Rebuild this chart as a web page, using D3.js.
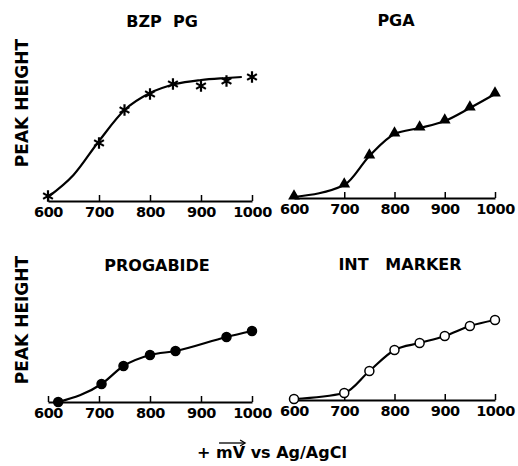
<!DOCTYPE html>
<html>
<head>
<meta charset="utf-8">
<script src="https://cdn.jsdelivr.net/npm/d3@7"></script>
<style>
  body { margin: 0; background: #fff; }
  svg text { font-family: "DejaVu Sans", sans-serif; font-weight: bold; fill: #000; }
</style>
</head>
<body>
<div id="chart"></div>
<script>
/* global d3 */
// data (peak height in arbitrary units, 0 = baseline)
const tickMV = [600, 700, 800, 900, 1000];

const bzpX = [600, 700, 750, 800, 845, 900, 950, 1000];
const bzpY = [5, 58, 91, 107, 117, 115, 120, 124];
// hand drawn fit through the stars, stops short of the last one
const bzpFitX = [600, 650, 700, 750, 800, 850, 900, 950, 980];
const bzpFitY = [4, 26, 60, 91, 108, 117, 121, 123, 124];

const pgaX = [600, 700, 750, 800, 850, 900, 950, 1000];
const pgaY = [1, 13, 42, 64, 70, 77, 90, 104];

const progX = [620, 705, 748, 800, 850, 950, 1000];
const progY = [0, 18, 36, 47, 51, 65, 71];

const intX = [600, 700, 750, 800, 850, 900, 950, 1000];
const intY = [1, 7, 29, 50, 57, 64, 74, 80];

let zip = (xs, ys) => xs.map((x, i) => ({x: x, y: ys[i]}));

let panels = [
  {title: "BZP  PG", mark: "star", pts: zip(bzpX, bzpY), fit: zip(bzpFitX, bzpFitY),
   x0: 48, x1: 252, base: 201, ty: 21, tx: 162},
  {title: "PGA", mark: "tri", pts: zip(pgaX, pgaY), fit: zip(pgaX, pgaY),
   x0: 294, x1: 495, base: 198, ty: 20, tx: 396},
  {title: "PROGABIDE", mark: "dot", pts: zip(progX, progY), fit: zip(progX, progY),
   x0: 48, x1: 252, base: 402, ty: 265, tx: 157},
  {title: "INT   MARKER", mark: "ring", pts: zip(intX, intY), fit: zip(intX, intY),
   x0: 294, x1: 495, base: 400, ty: 264, tx: 400}
];

let svg = d3.select("#chart").append("svg")
  .attr("width", 518)
  .attr("height", 466);

panels.forEach(p => {
  let x = d3.scaleLinear().domain([600, 1000]).range([p.x0, p.x1]);
  let y = d3.scaleLinear().domain([0, 130]).range([p.base, p.base - 130]);

  let g = svg.append("g");

  let ax = g.append("g")
    .attr("transform", `translate(0,${p.base})`)
    .call(d3.axisBottom(x).tickValues(tickMV).tickFormat(d3.format("d"))
      .tickSizeInner(-6).tickSizeOuter(0).tickPadding(6));
  ax.select(".domain").attr("stroke-width", 2);
  ax.selectAll(".tick line").attr("stroke-width", 1.5);
  ax.selectAll("text")
    .style("font-size", "14.5px")
    .style("letter-spacing", "-0.4px")
    .attr("fill", "#000");

  g.append("text")
    .attr("x", p.tx)
    .attr("y", p.ty)
    .attr("dy", "0.36em")
    .attr("text-anchor", "middle")
    .style("font-size", "16px")
    .style("white-space", "pre")
    .text(p.title);

  g.append("path")
    .datum(p.fit)
    .attr("fill", "none")
    .attr("stroke", "#000")
    .attr("stroke-width", 2.2)
    .attr("d", d3.line().x(d => x(d.x)).y(d => y(d.y)).curve(d3.curveMonotoneX));

  let m = g.selectAll(".mk").data(p.pts).enter();
  if (p.mark == "star") {
    m.append("path")
      .attr("transform", d => `translate(${x(d.x)},${y(d.y)})`)
      .attr("d", d3.symbol(d3.symbolAsterisk, 90)())
      .attr("fill", "none")
      .attr("stroke", "#000")
      .attr("stroke-width", 2.2);
  } else if (p.mark == "tri") {
    m.append("path")
      .attr("transform", d => `translate(${x(d.x)},${y(d.y) - 1})`)
      .attr("d", d3.symbol(d3.symbolTriangle, 60)())
      .attr("fill", "#000");
  } else {
    m.append("circle")
      .attr("cx", d => x(d.x))
      .attr("cy", d => y(d.y))
      .attr("r", 4.5)
      .attr("fill", p.mark == "dot" ? "#000" : "#fff")
      .attr("stroke", "#000")
      .attr("stroke-width", 1.5);
  }
});

// y labels
[103, 320].forEach(cy => {
  svg.append("text")
    .attr("transform", `translate(22,${cy}) rotate(-90)`)
    .attr("dy", "0.36em")
    .attr("text-anchor", "middle")
    .style("font-size", "17px")
    .text("PEAK HEIGHT");
});

// x label with the vector arrow over mV
let xt = svg.append("text")
  .attr("x", 272)
  .attr("y", 458)
  .attr("text-anchor", "middle")
  .style("font-size", "16px")
  .style("white-space", "pre")
  .text("+ mV vs Ag/AgCl");

let node = xt.node();
let start = node.getStartPositionOfChar(2).x;
let end = node.getEndPositionOfChar(3).x;
let ay = 443;
svg.append("line")
  .attr("x1", start + 3).attr("x2", end - 1)
  .attr("y1", ay).attr("y2", ay)
  .attr("stroke", "#000").attr("stroke-width", 1.3);
svg.append("path")
  .attr("d", `M${end - 5},${ay - 3}L${end},${ay}L${end - 5},${ay + 3}`)
  .attr("fill", "none")
  .attr("stroke", "#000")
  .attr("stroke-width", 1.3);
</script>
</body>
</html>
